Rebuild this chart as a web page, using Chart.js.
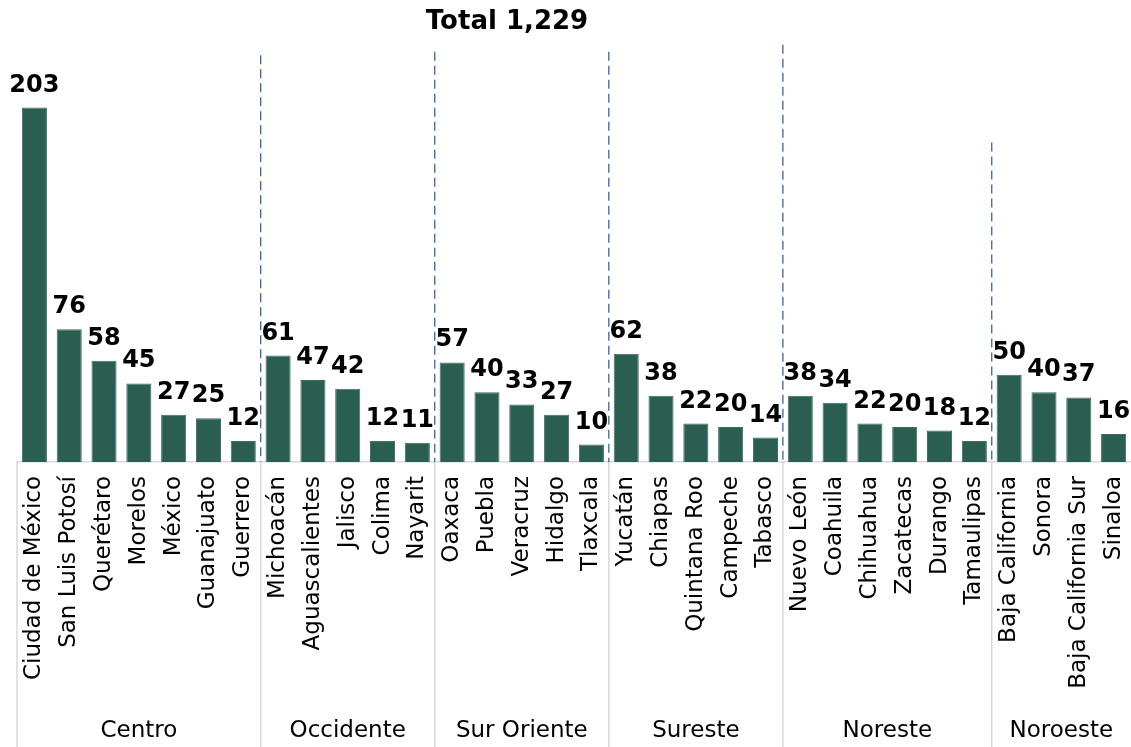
<!DOCTYPE html>
<html>
<head>
<meta charset="utf-8">
<script src="https://cdn.jsdelivr.net/npm/chart.js@4/dist/chart.umd.min.js"></script>
<style>
  body { margin: 0; background: #fff; }
  #wrap { width: 1131px; height: 747px; }
</style>
</head>
<body>
<div id="wrap"><canvas id="chart" width="1131" height="747"></canvas></div>
<script>
// Data
const categories = [
    "Ciudad de México", "San Luis Potosí", "Querétaro", "Morelos", "México", "Guanajuato", "Guerrero",
    "Michoacán", "Aguascalientes", "Jalisco", "Colima", "Nayarit",
    "Oaxaca", "Puebla", "Veracruz", "Hidalgo", "Tlaxcala",
    "Yucatán", "Chiapas", "Quintana Roo", "Campeche", "Tabasco",
    "Nuevo León", "Coahuila", "Chihuahua", "Zacatecas", "Durango", "Tamaulipas",
    "Baja California", "Sonora", "Baja California Sur", "Sinaloa"
];
const values = [
    203, 76, 58, 45, 27, 25, 12,
    61, 47, 42, 12, 11,
    57, 40, 33, 27, 10,
    62, 38, 22, 20, 14,
    38, 34, 22, 20, 18, 12,
    50, 40, 37, 16
];
const groups = ["Centro", "Occidente", "Sur Oriente", "Sureste", "Noreste", "Noroeste"];
const groupSizes = [7, 5, 5, 5, 6, 4];
const dividerTops = [233, 235, 235, 239, 183]; // y value where each dashed divider starts
const titleText = "Total 1,229";

const FONT = "'DejaVu Sans', sans-serif";

// Custom drawing: value labels, group dividers, group names, title
const decorations = {
    id: "decorations",
    afterDatasetsDraw(chart) {
        const ctx = chart.ctx;
        const x = chart.scales.x;
        const y = chart.scales.y;
        const area = chart.chartArea;
        const meta = chart.getDatasetMeta(0);

        ctx.save();
        // value labels
        ctx.fillStyle = "#000";
        ctx.font = "bold 24px " + FONT;
        ctx.textAlign = "center";
        ctx.textBaseline = "alphabetic";
        meta.data.forEach((bar, i) => {
            ctx.fillText(values[i], bar.x, bar.y - 16);
        });

        // group boundaries
        let start = 0;
        const bounds = [x.left];
        groupSizes.forEach(n => {
            const end = start + n;
            if (end < categories.length) {
                bounds.push((x.getPixelForValue(end - 1) + x.getPixelForValue(end)) / 2);
            }
            start = end;
        });
        bounds.push(x.right);

        // dashed dividers above the axis
        ctx.strokeStyle = "#3a64a3";
        ctx.lineWidth = 1.3;
        ctx.setLineDash([9, 5]);
        for (let i = 1; i < bounds.length - 1; i++) {
            ctx.beginPath();
            ctx.moveTo(bounds[i], y.getPixelForValue(dividerTops[i - 1]));
            ctx.lineTo(bounds[i], area.bottom);
            ctx.stroke();
        }

        // solid separators below the axis
        ctx.setLineDash([]);
        ctx.strokeStyle = "#d9d9d9";
        ctx.lineWidth = 1.5;
        for (let i = 0; i < bounds.length - 1; i++) {
            ctx.beginPath();
            ctx.moveTo(bounds[i], area.bottom);
            ctx.lineTo(bounds[i], chart.height);
            ctx.stroke();
        }

        // group names
        ctx.fillStyle = "#000";
        ctx.font = "23px " + FONT;
        ctx.textBaseline = "middle";
        groups.forEach((g, i) => {
            ctx.fillText(g, (bounds[i] + bounds[i + 1]) / 2, 731);
        });

        // title
        ctx.font = "bold 26px " + FONT;
        ctx.fillText(titleText, 507, 22);
        ctx.restore();
    }
};

const ctx = document.getElementById("chart").getContext("2d");
const chart = new Chart(ctx, {
    type: "bar",
    data: {
        labels: categories,
        datasets: [
            {
                data: values,
                backgroundColor: "#2a5e50",
                borderColor: "#3d6e62",
                borderWidth: 1,
                barPercentage: 0.72,
                categoryPercentage: 1
            }
        ]
    },
    options: {
        responsive: false,
        animation: false,
        layout: {
            padding: { top: 43, left: 17, right: 0, bottom: 0 }
        },
        plugins: {
            legend: { display: false },
            tooltip: { enabled: false }
        },
        scales: {
            x: {
                grid: { display: false, drawTicks: false },
                border: { display: true, color: "#d9d9d9", width: 1.5 },
                ticks: {
                    color: "#000",
                    font: { family: FONT, size: 23 },
                    minRotation: 90,
                    maxRotation: 90,
                    autoSkip: false,
                    padding: 14
                },
                afterFit(scale) {
                    scale.height = 285;
                    scale.paddingLeft = 0;
                    scale.paddingRight = 0;
                }
            },
            y: {
                display: false,
                min: 0,
                max: 240
            }
        }
    },
    plugins: [decorations]
});
</script>
</body>
</html>
